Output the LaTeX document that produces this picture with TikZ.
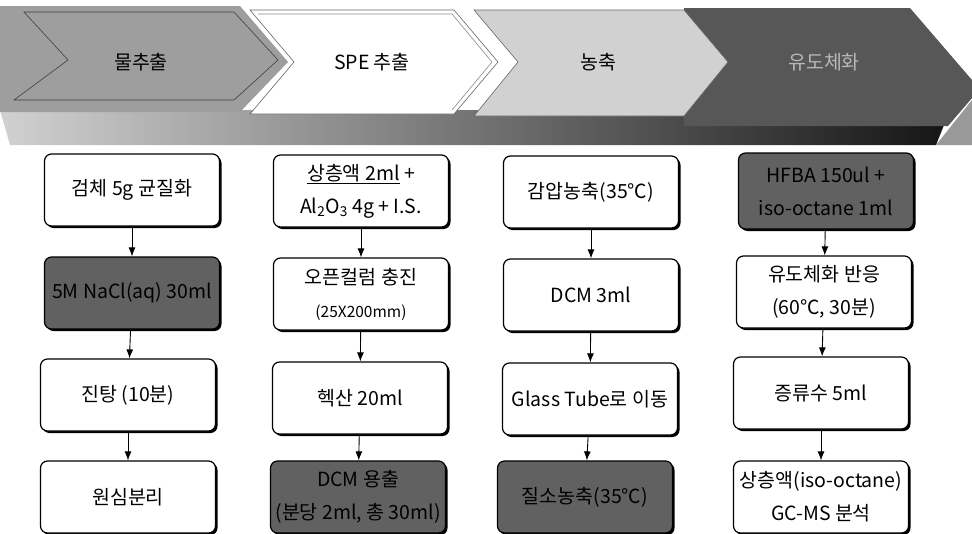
\documentclass[tikz,border=0pt]{standalone}
\usepackage{fontspec}
\setmainfont{Noto Sans CJK KR}
\usetikzlibrary{arrows.meta,shadows}
\begin{document}
\begin{tikzpicture}[x=1pt,y=-1pt,
  box/.style={draw=black, line width=1.2pt, rounded corners=7pt, fill=white,
    minimum width=175pt, minimum height=72pt, align=center, inner sep=1pt,
    font=\fontsize{19.5}{33}\selectfont,
    drop shadow={shadow xshift=2pt, shadow yshift=-2pt, fill=black, opacity=1}},
  darkbox/.style={box, fill=black!62, text=black},
  arr/.style={line width=0.9pt, -{Latex[length=9pt,width=7pt]}},
  chev/.style={draw=black!60, line width=0.6pt},
  chevtext/.style={font=\fontsize{19.5}{22}\selectfont}]
\useasboundingbox (0,0) rectangle (972,533);
% ribbon side band
\shade[left color=black!18, right color=black!92] (0,110) -- (950,110) -- (936,145) -- (10,145) -- cycle;
\fill[black!40] (936,145) -- (972,100) -- (972,145) -- cycle;
% chevrons
\fill[black!66] (684,8) -- (910,8) -- (972,80) -- (972,98) -- (948,126) -- (684,126) -- cycle;
\filldraw[chev, fill=black!18] (474,10) -- (684,10) -- (728,62) -- (684,116) -- (474,116) -- (518,62) -- cycle;
\filldraw[chev, fill=white] (250,10) -- (454,10) -- (498,62) -- (454,114) -- (250,114) -- (294,62) -- cycle;
\draw[chev, draw=black!45] (258,14) -- (452,14) -- (492,62) -- (452,110);
\fill[black!38] (0,6) -- (240,6) -- (288,62) -- (240,112) -- (0,112) -- cycle;
\draw[chev, draw=black!75] (24,12) -- (234,12) -- (278,60) -- (234,100) -- (14,100) -- (68,60) -- cycle;
\node[chevtext] (h1) at (141,62) {물추출};
\node[chevtext] (h2) at (372,62) {SPE 추출};
\node[chevtext] (h3) at (598,62) {농축};
\node[chevtext, text=black!28] (h4) at (824,62) {유도체화};
% column 1
\node[box] (a1) at (132,190) {검체 5g 균질화};
\node[darkbox] (a2) at (132,293) {5M NaCl(aq) 30ml};
\node[box] (a3) at (128,395) {진탕 (10분)};
\node[box] (a4) at (128,497) {원심분리};
% column 2
\node[box] (b1) at (361,191) {\underline{상층액 2ml} +\\Al\textsubscript{2}O\textsubscript{3} 4g + I.S.};
\node[box] (b2) at (361,294) {오픈컬럼 충진\\{\fontsize{15.5}{20}\selectfont (25X200mm)}};
\node[box] (b3) at (360,398) {헥산 20ml};
\node[darkbox] (b4) at (358,497) {DCM 용출\\(분당 2ml, 총 30ml)};
% column 3
\node[box] (c1) at (591,192) {감압농축(35℃)};
\node[box] (c2) at (591,295) {DCM 3ml};
\node[box] (c3) at (590,399) {Glass Tube로 이동};
\node[darkbox] (c4) at (585,497) {질소농축(35℃)};
% column 4
\node[darkbox, minimum height=76pt] (d1) at (826,191) {HFBA 150ul +\\iso-octane 1ml};
\node[box] (d2) at (824,292) {유도체화 반응\\(60℃, 30분)};
\node[box] (d3) at (821,393) {증류수 5ml};
\node[box] (d4) at (821,497) {상층액(iso-octane)\\GC-MS 분석};
% arrows
\foreach \c in {a,b,c,d}{
  \draw[arr] (\c1) -- (\c2);
  \draw[arr] (\c2) -- (\c3);
  \draw[arr] (\c3) -- (\c4);
}
\end{tikzpicture}
\end{document}
